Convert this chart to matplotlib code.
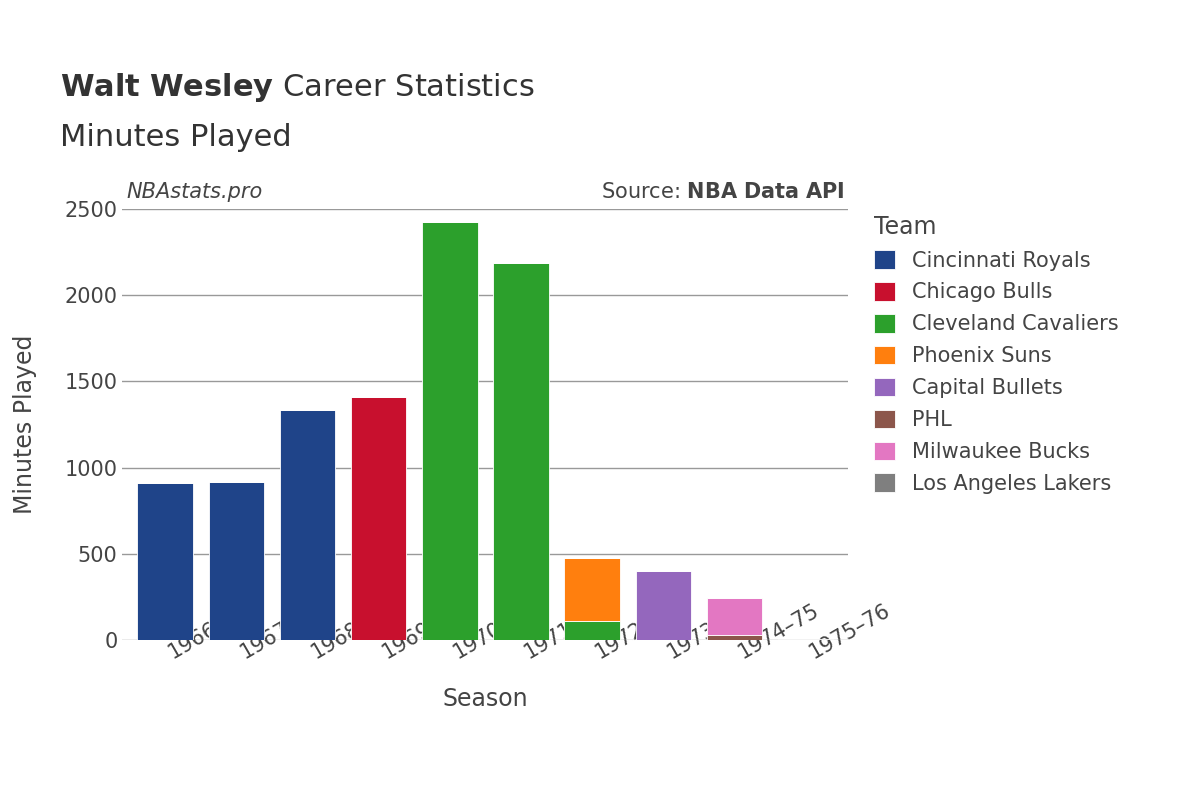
import matplotlib.pyplot as plt
import numpy as np

seasons = ["1966–67", "1967–68", "1968–69", "1969–70", "1970–71",
           "1971–72", "1972–73", "1973–74", "1974–75", "1975–76"]
teams = ["Cincinnati Royals", "Chicago Bulls", "Cleveland Cavaliers", "Phoenix Suns",
         "Capital Bullets", "PHL", "Milwaukee Bucks", "Los Angeles Lakers"]
colors = ["#1f4489", "#c8102e", "#2ca02c", "#ff7f0e", "#9467bd", "#8c564b", "#e377c2", "#7f7f7f"]
# minutes per team per season (stacked in team order)
cincinnati = [909, 917, 1334, 0, 0, 0, 0, 0, 0, 0]
chicago = [0, 0, 0, 1407, 0, 0, 0, 0, 0, 0]
cleveland = [0, 0, 0, 0, 2425, 2185, 110, 0, 0, 0]
phoenix = [0, 0, 0, 0, 0, 0, 363, 0, 0, 0]
capital = [0, 0, 0, 0, 0, 0, 0, 401, 0, 0]
phl = [0, 0, 0, 0, 0, 0, 0, 0, 31, 0]
milwaukee = [0, 0, 0, 0, 0, 0, 0, 0, 215, 0]
lakers = [0, 0, 0, 0, 0, 0, 0, 0, 0, 5]
series = [cincinnati, chicago, cleveland, phoenix, capital, phl, milwaukee, lakers]

fig = plt.figure(figsize=(12, 8), dpi=100)
ax = fig.add_axes([0.102, 0.2, 0.605, 0.539])
x = np.arange(len(seasons))
bottom = np.zeros(len(seasons))
for name, vals, c in zip(teams, series, colors):
    v = np.array(vals, dtype=float)
    ax.bar(x, v, bottom=bottom, width=0.78, color=c, label=name, zorder=3,
           edgecolor="white", linewidth=0.6)
    bottom += v

ax.set_xlim(-0.6, 9.6)
ax.set_ylim(0, 2500)
ax.set_yticks([0, 500, 1000, 1500, 2000, 2500])
ax.grid(axis="y", color="#999999", linewidth=1, zorder=0)
for s in ax.spines.values():
    s.set_visible(False)
ax.tick_params(length=0, labelsize=15, colors="#444444")
ax.set_xticks(x)
ax.set_xticklabels(seasons, rotation=30, ha="left", rotation_mode="anchor")
ax.set_xlabel("Season", fontsize=17, color="#444444", labelpad=18)
ax.set_ylabel("Minutes Played", fontsize=17, color="#444444", labelpad=20)

fig.text(0.05, 0.88, r"$\bf{Walt\ Wesley}$ Career Statistics", fontsize=22, color="#333333")
fig.text(0.05, 0.817, "Minutes Played", fontsize=22, color="#333333")
fig.text(0.105, 0.752, "NBAstats.pro", fontsize=15, style="italic", color="#444444")
fig.text(0.704, 0.752, r"Source: $\bf{NBA\ Data\ API}$", fontsize=15, color="#444444", ha="right")

leg = ax.legend(loc="upper left", bbox_to_anchor=(1.01, 1.03), frameon=False,
                fontsize=15, title="Team", title_fontsize=17, labelcolor="#444444",
                handlelength=1.0, handleheight=1.0, labelspacing=0.55)
leg._legend_box.align = "left"
leg.get_title().set_color("#444444")

fig.savefig("out.png", dpi=100)
